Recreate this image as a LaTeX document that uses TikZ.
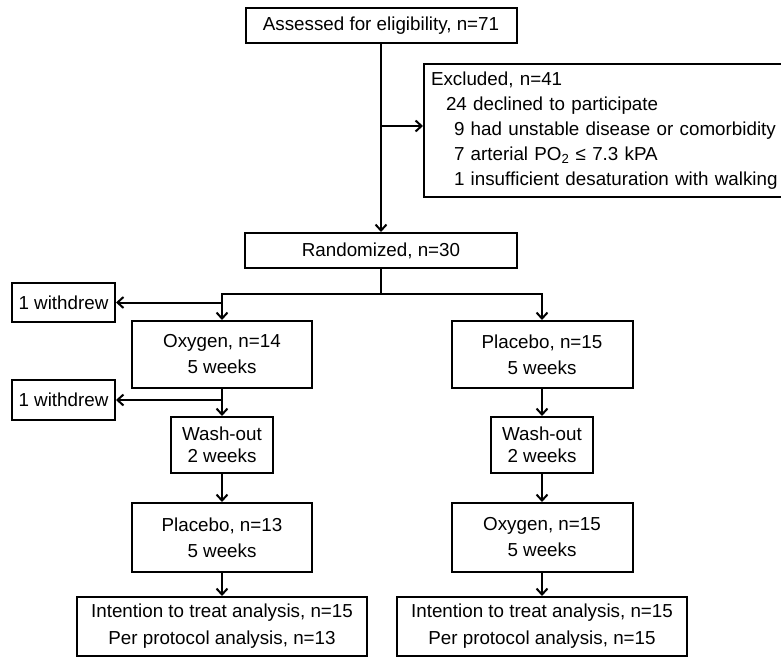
\documentclass[tikz,border=0pt]{standalone}
\usepackage{fontspec}
\setmainfont{Liberation Sans}
\usetikzlibrary{arrows.meta,positioning}

\begin{document}
\begin{tikzpicture}[
    x=1pt, y=-1pt,
    line width=2pt,
    font=\fontsize{18.8}{26}\selectfont,
    box/.style={draw=black, rectangle, align=center, inner sep=0pt},
    arr/.style={-{Straight Barb[length=6pt,width=11pt]}}]
    % BOUNDS
    \useasboundingbox (0,0) rectangle (781,658);
    % NODES
    % assessed
    \node[box, minimum width=271pt, minimum height=35pt] (assess) at (381,25.5) {Assessed for eligibility, n=71};
    % excluded
    \node[box, anchor=west, minimum height=133pt, align=left, inner xsep=7pt, text width=352pt,
          font=\fontsize{18.8}{25}\selectfont] (excl) at (423,130.5)
          {Excluded, n=41\\
           \hspace*{15pt}24 declined to participate\\
           \hspace*{23pt}9 had unstable disease or comorbidity\\
           \hspace*{23pt}7 arterial PO\textsubscript{2} ≤ 7.3 kPA\\
           \hspace*{23pt}1 insufficient desaturation with walking};
    % randomized
    \node[box, below of = assess, node distance = 225pt, minimum width=272pt, minimum height=35pt] (rand) {Randomized, n=30};
    % withdrawals
    \node[box, minimum width=103pt, minimum height=39pt] (wdA) at (63.5,302.5) {1 withdrew};
    \node[box, below of = wdA, node distance = 97.5pt, minimum width=103pt, minimum height=40pt] (wdB) {1 withdrew};
    % left arm
    \node[box, minimum width=180pt, minimum height=67pt] (oxyA) at (222,354.5) {Oxygen, n=14\\5 weeks};
    \node[box, below of = oxyA, node distance = 90.5pt, minimum width=102pt, minimum height=56pt,
          font=\fontsize{18.8}{22}\selectfont] (washA) {Wash-out\\2 weeks};
    \node[box, below of = washA, node distance = 92.5pt, minimum width=180pt, minimum height=69pt] (placA) {Placebo, n=13\\5 weeks};
    \node[box, below of = placA, node distance = 89pt, minimum width=290pt, minimum height=59pt,
          font=\fontsize{18.8}{27}\selectfont] (ittA) {Intention to treat analysis, n=15\\Per protocol analysis, n=13};
    % right arm
    \node[box, minimum width=181pt, minimum height=67pt] (placB) at (542,354.5) {Placebo, n=15\\5 weeks};
    \node[box, below of = placB, node distance = 90.5pt, minimum width=102pt, minimum height=56pt,
          font=\fontsize{18.8}{22}\selectfont] (washB) {Wash-out\\2 weeks};
    \node[box, below of = washB, node distance = 92.5pt, minimum width=181pt, minimum height=69pt] (oxyB) {Oxygen, n=15\\5 weeks};
    \node[box, below of = oxyB, node distance = 89pt, minimum width=290pt, minimum height=59pt,
          font=\fontsize{18.8}{27}\selectfont] (ittB) {Intention to treat analysis, n=15\\Per protocol analysis, n=15};
    % junctions
    \coordinate (exclArm) at (381,126);
    \coordinate (split) at (381,294);

    % ARROWS
    \draw[arr] (assess) -- (rand);
    \draw[arr] (exclArm) -- (exclArm -| excl.west);
    \draw (rand) -- (split);
    \draw[arr] (split) -| (oxyA.north);
    \draw[arr] (split) -| (placB.north);
    \draw[arr] (wdA -| oxyA) -- (wdA);
    \draw[arr] (oxyA) -- (washA);
    \draw[arr] (wdB -| oxyA) -- (wdB);
    \draw[arr] (washA) -- (placA);
    \draw[arr] (placA) -- (ittA);
    \draw[arr] (placB) -- (washB);
    \draw[arr] (washB) -- (oxyB);
    \draw[arr] (oxyB) -- (ittB);
\end{tikzpicture}
\end{document}
